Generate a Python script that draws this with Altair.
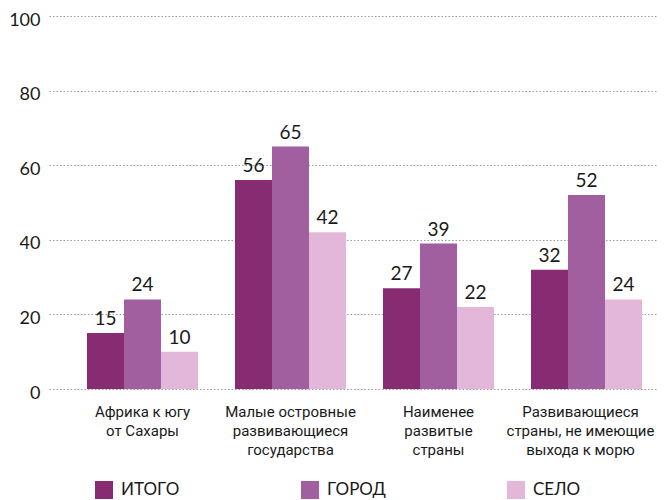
import altair as alt
import pandas as pd

categories = [
    "Африка к югу\nот Сахары",
    "Малые островные\nразвивающиеся\nгосударства",
    "Наименее\nразвитые\nстраны",
    "Развивающиеся\nстраны, не имеющие\nвыхода к морю",
]
series = ["ИТОГО", "ГОРОД", "СЕЛО"]
total = [15, 56, 27, 32]
urban = [24, 65, 39, 52]
rural = [10, 42, 22, 24]
colors = ["#872B73", "#A25F9F", "#E3B7DA"]

rows = []
for i, c in enumerate(categories):
    for s, vals in zip(series, [total, urban, rural]):
        rows.append({"cat": c, "series": s, "value": vals[i]})
df = pd.DataFrame(rows)

num_font = "Lato"
lab_font = "Roboto"

x_enc = alt.X(
    "cat:N",
    sort=categories,
    scale=alt.Scale(paddingInner=0.25, paddingOuter=0.179, align=0.717),
    axis=alt.Axis(
        title=None,
        domain=False,
        ticks=False,
        labelAngle=0,
        labelExpr="split(datum.label, '\\n')",
        labelFont=lab_font,
        labelFontSize=15,
        labelLineHeight=19,
        labelColor="#1a1a1a",
        labelBaseline="top",
        labelPadding=15,
        labelLimit=200,
        labelOffset=alt.condition("datum.index == 1", alt.value(-6), alt.value(0)),
    ),
)
xoff = alt.XOffset("series:N", sort=series, scale=alt.Scale(paddingInner=0, paddingOuter=0))
y_enc = alt.Y(
    "value:Q",
    scale=alt.Scale(domain=[0, 100], nice=False),
    axis=alt.Axis(
        title=None,
        values=[0, 20, 40, 60, 80, 100],
        domain=False,
        ticks=False,
        grid=True,
        gridDash=[1.5, 2],
        gridColor="#9a9a9a",
        gridWidth=1,
        labelFont=num_font,
        labelFontSize=18,
        labelColor="#1a1a1a",
        labelPadding=9,
        labelOffset=4,
    ),
)

bars = alt.Chart(df).mark_bar().encode(
    x=x_enc,
    xOffset=xoff,
    y=y_enc,
    color=alt.Color(
        "series:N",
        sort=series,
        scale=alt.Scale(domain=series, range=colors),
        legend=alt.Legend(
            title=None,
            orient="none",
            legendX=46,
            legendY=465,
            direction="horizontal",
            columns=3,
            gridAlign="all",
            columnPadding=121,
            symbolType="square",
            symbolSize=324,
            symbolStrokeWidth=0,
            labelFont=num_font,
            labelFontSize=17,
            labelColor="#1a1a1a",
            labelOffset=8,
            padding=0,
        ),
    ),
)

labels = alt.Chart(df).mark_text(
    baseline="bottom", dy=-4, font=num_font, fontSize=19, color="#1a1a1a"
).encode(
    x=alt.X("cat:N", sort=categories),
    xOffset=alt.XOffset("series:N", sort=series),
    y=alt.Y("value:Q"),
    text=alt.Text("value:Q"),
)

chart = (
    alt.layer(bars, labels)
    .properties(
        width=608,
        height=373,
        autosize=alt.AutoSizeParams(type="none"),
        padding={"left": 41, "top": 8, "right": 0, "bottom": 111},
    )
    .configure_view(stroke=None)
)

chart.save("out.html", embed_options={"renderer": "svg", "actions": False})
